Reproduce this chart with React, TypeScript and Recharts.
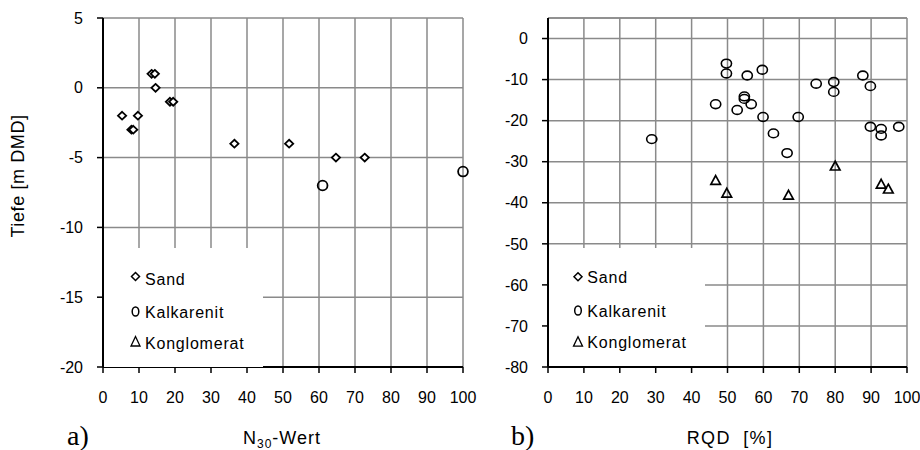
import React from 'react';
import {
  ScatterChart,
  Scatter,
  XAxis,
  YAxis,
  CartesianGrid,
  Legend,
  ReferenceLine,
} from 'recharts';

// ---------- data ----------
const seriesNames = ['Sand', 'Kalkarenit', 'Konglomerat'];

// chart a) : N30-Wert vs Tiefe
const sandN30 = [5.3, 7.9, 8.4, 9.7, 13.5, 14.4, 14.6, 18.6, 19.5, 36.5, 51.7, 64.7, 72.7];
const sandDepthA = [-2, -3, -3, -2, 1, 1, 0, -1, -1, -4, -4, -5, -5];
const kalkN30 = [61, 100];
const kalkDepthA = [-7, -6];
const konglN30: number[] = [];
const konglDepthA: number[] = [];

// chart b) : RQD vs Tiefe
const kalkRQD = [28.9, 46.7, 49.7, 49.7, 52.7, 54.7, 54.7, 55.5, 56.6, 59.7, 59.9, 62.8, 66.6, 69.7, 74.7, 79.6, 79.6, 87.7, 89.8, 89.8, 92.8, 92.8, 97.7];
const kalkDepthB = [-24.5, -16, -6.1, -8.5, -17.4, -14.1, -14.7, -9, -16, -7.6, -19.1, -23.1, -27.9, -19.1, -11, -10.6, -13, -9, -11.6, -21.5, -22, -23.6, -21.5];
const konglRQD = [46.7, 49.8, 67.0, 80.0, 92.8, 94.8];
const konglDepthB = [-34.6, -37.7, -38.2, -31.1, -35.5, -36.7];

const xTicks = [0, 10, 20, 30, 40, 50, 60, 70, 80, 90, 100];
const yTicksA = [-20, -15, -10, -5, 0, 5];
const yTicksB = [-80, -70, -60, -50, -40, -30, -20, -10, 0];

const zip = (xs: number[], ys: number[]) => xs.map((x, i) => ({ x, y: ys[i] }));

// ---------- styles ----------
const FONT = '"Liberation Sans", Arial, sans-serif';
const GRID = '#8a8a8a';
const tickStyle = { fill: '#000', fontSize: 16, fontFamily: FONT };

// ---------- marker shapes ----------
const Diamond = (props: any) => {
  const { cx, cy } = props;
  if (cx == null || cy == null) return null;
  const w = 4.1, h = 3.9;
  return (
    <polygon
      points={`${cx},${cy - h} ${cx + w},${cy} ${cx},${cy + h} ${cx - w},${cy}`}
      fill="#fff"
      stroke="#000"
      strokeWidth={1.8}
    />
  );
};

const CircleA = (props: any) => {
  const { cx, cy } = props;
  if (cx == null || cy == null) return null;
  return <ellipse cx={cx} cy={cy} rx={4.9} ry={4.9} fill="none" stroke="#000" strokeWidth={1.8} />;
};

const CircleB = (props: any) => {
  const { cx, cy } = props;
  if (cx == null || cy == null) return null;
  return <ellipse cx={cx} cy={cy} rx={5.1} ry={4.4} fill="none" stroke="#000" strokeWidth={1.6} />;
};

const Triangle = (props: any) => {
  const { cx, cy } = props;
  if (cx == null || cy == null) return null;
  return (
    <polygon
      points={`${cx},${cy - 5} ${cx + 4.8},${cy + 3.8} ${cx - 4.8},${cy + 3.8}`}
      fill="none"
      stroke="#000"
      strokeWidth={1.7}
      strokeLinejoin="miter"
    />
  );
};

// ---------- legend ----------
type Row = { symY: number; baseY: number };
const LegendBox = ({ w, h, symX, textX, rows }: { w: number; h: number; symX: number; textX: number; rows: Row[] }) => (
  <div style={{ width: w, height: h, background: '#fff' }}>
    <svg width={w} height={h} style={{ display: 'block' }}>
      {seriesNames.map((name, i) => {
        const r = rows[i];
        let sym: React.ReactNode = null;
        if (i === 0)
          sym = (
            <polygon
              points={`${symX},${r.symY - 4} ${symX + 4},${r.symY} ${symX},${r.symY + 4} ${symX - 4},${r.symY}`}
              fill="none"
              stroke="#000"
              strokeWidth={1.5}
            />
          );
        else if (i === 1)
          sym = <ellipse cx={symX} cy={r.symY} rx={3.3} ry={4.6} fill="none" stroke="#000" strokeWidth={1.5} />;
        else
          sym = (
            <polygon
              points={`${symX},${r.symY - 5} ${symX + 4.5},${r.symY + 4.5} ${symX - 4.5},${r.symY + 4.5}`}
              fill="none"
              stroke="#000"
              strokeWidth={1.3}
            />
          );
        return (
          <g key={name}>
            {sym}
            <text x={textX} y={r.baseY} fontFamily={FONT} fontSize={16} letterSpacing={0.8} fill="#000">
              {name}
            </text>
          </g>
        );
      })}
    </svg>
  </div>
);

// ---------- app ----------
export default function App() {
  const dataSandA = zip(sandN30, sandDepthA);
  const dataKalkA = zip(kalkN30, kalkDepthA);
  const dataKonglA = zip(konglN30, konglDepthA);
  const dataKalkB = zip(kalkRQD, kalkDepthB);
  const dataKonglB = zip(konglRQD, konglDepthB);

  return (
    <div style={{ position: 'absolute', left: 0, top: 0, width: 920, height: 450, background: '#fff', fontFamily: FONT }}>
      {/* chart a) */}
      <div style={{ position: 'absolute', left: 0, top: 0 }}>
        <ScatterChart width={485} height={450} margin={{ top: 18, right: 22, bottom: 53, left: 43 }}>
          <CartesianGrid stroke={GRID} strokeWidth={1.5} fill="none" />
          <XAxis
            type="number"
            dataKey="x"
            domain={[0, 100]}
            ticks={xTicks}
            interval={0}
            height={30}
            tick={tickStyle}
            tickSize={6}
            tickMargin={19}
            axisLine={{ stroke: '#000', strokeWidth: 2 }}
            tickLine={{ stroke: '#000', strokeWidth: 1.5 }}
          />
          <YAxis
            type="number"
            dataKey="y"
            domain={[-20, 5]}
            ticks={yTicksA}
            interval={0}
            width={60}
            tick={tickStyle}
            tickSize={6}
            tickMargin={14}
            axisLine={{ stroke: '#000', strokeWidth: 2 }}
            tickLine={{ stroke: '#000', strokeWidth: 1.5 }}
          />
          <Legend
            layout="vertical"
            align="center"
            verticalAlign="middle"
            wrapperStyle={{ left: 104, top: 248, width: 159, height: 119 }}
            content={() => (
              <LegendBox
                w={159}
                h={119}
                symX={31.5}
                textX={41}
                rows={[
                  { symY: 28.5, baseY: 37 },
                  { symY: 63.5, baseY: 70.3 },
                  { symY: 93.5, baseY: 101 },
                ]}
              />
            )}
          />
          <Scatter name={seriesNames[0]} data={dataSandA} shape={Diamond} isAnimationActive={false} />
          <Scatter name={seriesNames[1]} data={dataKalkA} shape={CircleA} isAnimationActive={false} />
          <Scatter name={seriesNames[2]} data={dataKonglA} shape={Triangle} isAnimationActive={false} />
        </ScatterChart>
      </div>

      {/* chart b) */}
      <div style={{ position: 'absolute', left: 485, top: 0 }}>
        <ScatterChart width={435} height={450} margin={{ top: 18, right: 13, bottom: 53, left: 3 }}>
          <CartesianGrid stroke={GRID} strokeWidth={1.5} fill="none" />
          <ReferenceLine y={5} stroke={GRID} strokeWidth={1.5} />
          <XAxis
            type="number"
            dataKey="x"
            domain={[0, 100]}
            ticks={xTicks}
            interval={0}
            height={30}
            tick={tickStyle}
            tickSize={6}
            tickMargin={19}
            axisLine={{ stroke: '#000', strokeWidth: 2 }}
            tickLine={{ stroke: '#000', strokeWidth: 1.5 }}
          />
          <YAxis
            type="number"
            dataKey="y"
            domain={[-80, 5]}
            ticks={yTicksB}
            interval={0}
            width={60}
            tick={tickStyle}
            tickSize={6}
            tickMargin={14}
            axisLine={{ stroke: '#000', strokeWidth: 2 }}
            tickLine={{ stroke: '#000', strokeWidth: 1.5 }}
          />
          <Legend
            layout="vertical"
            align="center"
            verticalAlign="middle"
            wrapperStyle={{ left: 64, top: 248, width: 156, height: 118 }}
            content={() => (
              <LegendBox
                w={156}
                h={118}
                symX={29}
                textX={38.3}
                rows={[
                  { symY: 28.7, baseY: 35.3 },
                  { symY: 62.5, baseY: 69.3 },
                  { symY: 93.7, baseY: 100.3 },
                ]}
              />
            )}
          />
          <Scatter name={seriesNames[0]} data={[] as { x: number; y: number }[]} shape={Diamond} isAnimationActive={false} />
          <Scatter name={seriesNames[1]} data={dataKalkB} shape={CircleB} isAnimationActive={false} />
          <Scatter name={seriesNames[2]} data={dataKonglB} shape={Triangle} isAnimationActive={false} />
        </ScatterChart>
      </div>

      {/* titles overlay */}
      <svg width={920} height={450} style={{ position: 'absolute', left: 0, top: 0, pointerEvents: 'none' }}>
        <text
          transform="translate(24,176) rotate(-90)"
          textAnchor="middle"
          fontFamily={FONT}
          fontSize={18}
          letterSpacing={0.6}
          fill="#000"
        >
          Tiefe [m DMD]
        </text>
        <text x={282} y={444} textAnchor="middle" fontFamily={FONT} fontSize={18} letterSpacing={1} fill="#000">
          <tspan>N</tspan>
          <tspan fontSize={12} dy={4}>30</tspan>
          <tspan dy={-4}>-Wert</tspan>
        </text>
        <text x={730} y={444} textAnchor="middle" fontFamily={FONT} fontSize={18} letterSpacing={1.3} fill="#000" style={{ whiteSpace: 'pre' }}>
          {'RQD  [%]'}
        </text>
        <text x={67} y={445} fontFamily={'"Liberation Serif", "Times New Roman", serif'} fontSize={28} fill="#000">
          a)
        </text>
        <text x={511} y={445} fontFamily={'"Liberation Serif", "Times New Roman", serif'} fontSize={28} fill="#000">
          b)
        </text>
      </svg>
    </div>
  );
}
